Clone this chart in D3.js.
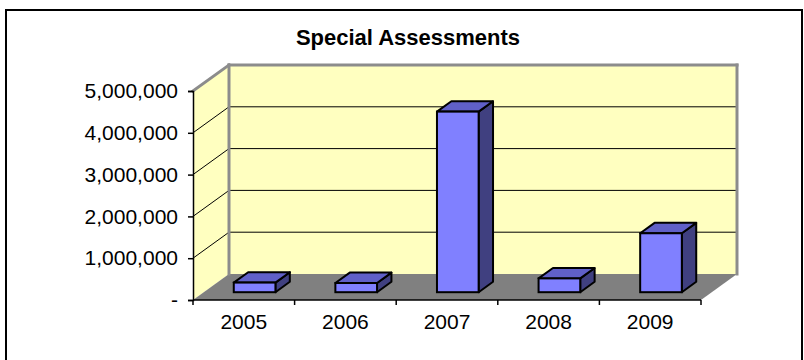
<!DOCTYPE html>
<html>
<head>
<meta charset="utf-8">
<script src="https://cdn.jsdelivr.net/npm/d3@7/dist/d3.min.js"></script>
<style>
  html, body { margin: 0; padding: 0; background: #fff; }
  svg { display: block; font-family: Arial, "Liberation Sans", sans-serif; }
</style>
</head>
<body>
<svg id="chart" width="804" height="360"></svg>
<script>
// Special assessments collected per year
const years = ["2005", "2006", "2007", "2008", "2009"];
const amounts = [230000, 220000, 4320000, 330000, 1410000];
const yTicks = [0, 1000000, 2000000, 3000000, 4000000, 5000000];
const titleText = "Special Assessments";

const svg = d3.select("#chart");

// Front plane of the 3-D box and the depth vector to the back wall
const x = d3.scaleBand().domain(years).range([193, 701]).padding(0);
const y = d3.scaleLinear().domain([0, 5000000]).range([300, 91]);
const depth = { dx: 36, dy: -26 };
const barFront = 0.3, barBack = 0.7;   // bar slab position within the depth
const barWidthFrac = 0.41;

const xL = x.range()[0], xR = x.range()[1];
const yTop = y(5000000), yBase = y(0);

// Outer frame
svg.append("rect")
  .attr("x", 6).attr("y", 10).attr("width", 796).attr("height", 360)
  .attr("fill", "#fff").attr("stroke", "#000").attr("stroke-width", 2);

// Title
svg.append("text")
  .attr("x", 408).attr("y", 45)
  .attr("text-anchor", "middle")
  .attr("font-size", 22).attr("font-weight", "bold")
  .text(titleText);

const pts = p => p.map(d => d.join(",")).join(" ");

// Back wall
svg.append("rect")
  .attr("x", xL + depth.dx).attr("y", yTop + depth.dy)
  .attr("width", xR - xL).attr("height", yBase - yTop)
  .attr("fill", "#FFFFC0");

// Side wall
svg.append("polygon")
  .attr("points", pts([[xL, yBase], [xL, yTop], [xL + depth.dx, yTop + depth.dy], [xL + depth.dx, yBase + depth.dy]]))
  .attr("fill", "#FFFFC0");

// Floor
svg.append("polygon")
  .attr("points", pts([[xL, yBase], [xR, yBase], [xR + depth.dx, yBase + depth.dy], [xL + depth.dx, yBase + depth.dy]]))
  .attr("fill", "#808080");

// Gridlines on the back and side walls
const inner = yTicks.filter(v => v > 0 && v < 5000000);
svg.append("g").selectAll("line.back").data(inner).join("line")
  .attr("x1", xL + depth.dx).attr("x2", xR + depth.dx)
  .attr("y1", d => y(d) + depth.dy).attr("y2", d => y(d) + depth.dy)
  .attr("stroke", "#000").attr("stroke-width", 1);
svg.append("g").selectAll("line.side").data(inner).join("line")
  .attr("x1", xL).attr("x2", xL + depth.dx)
  .attr("y1", d => y(d)).attr("y2", d => y(d) + depth.dy)
  .attr("stroke", "#000").attr("stroke-width", 1);

// Wall edges
const edge = "#8C8C8C";
const edges = [
  [[xL, yTop], [xL + depth.dx, yTop + depth.dy]],
  [[xL + depth.dx, yTop + depth.dy], [xR + depth.dx, yTop + depth.dy]],
  [[xL + depth.dx, yTop + depth.dy], [xL + depth.dx, yBase + depth.dy]],
  [[xR + depth.dx, yTop + depth.dy], [xR + depth.dx, yBase + depth.dy]]
];
svg.append("g").selectAll("line").data(edges).join("line")
  .attr("x1", d => d[0][0]).attr("y1", d => d[0][1])
  .attr("x2", d => d[1][0]).attr("y2", d => d[1][1])
  .attr("stroke", edge).attr("stroke-width", 3).attr("stroke-linecap", "square");

// Bars
const bw = x.bandwidth() * barWidthFrac;
const fx = barFront * depth.dx, fy = barFront * depth.dy;
const ddx = (barBack - barFront) * depth.dx, ddy = (barBack - barFront) * depth.dy;
const bars = svg.append("g").selectAll("g").data(years.map((c, i) => ({ c, v: amounts[i] }))).join("g");
bars.each(function (d) {
  const g = d3.select(this);
  const x0 = x(d.c) + x.bandwidth() / 2 - bw / 2 + fx, x1 = x0 + bw;
  const yt = y(d.v) + fy, yb = y(0) + fy;
  g.append("polygon")
    .attr("points", pts([[x1, yt], [x1 + ddx, yt + ddy], [x1 + ddx, yb + ddy], [x1, yb]]))
    .attr("fill", "#404080").attr("stroke", "#000").attr("stroke-width", 2).attr("stroke-linejoin", "round");
  g.append("polygon")
    .attr("points", pts([[x0, yt], [x1, yt], [x1 + ddx, yt + ddy], [x0 + ddx, yt + ddy]]))
    .attr("fill", "#6060C8").attr("stroke", "#000").attr("stroke-width", 2).attr("stroke-linejoin", "round");
  g.append("rect")
    .attr("x", x0).attr("y", yt).attr("width", bw).attr("height", yb - yt)
    .attr("fill", "#8080FF").attr("stroke", "#000").attr("stroke-width", 2);
});

// Value axis
const yAxis = d3.axisLeft(y).tickValues(yTicks).tickSize(5).tickPadding(10)
  .tickFormat(v => v === 0 ? "-" : d3.format(",")(v));
svg.append("g").attr("transform", `translate(${xL},0)`).call(yAxis)
  .call(g => g.select(".domain").attr("stroke", "#000").attr("stroke-width", 1.5))
  .call(g => g.selectAll(".tick line").attr("stroke", "#000").attr("stroke-width", 1.5))
  .call(g => g.selectAll(".tick text").attr("font-size", 21).attr("fill", "#000")
    .attr("font-family", "Arial, 'Liberation Sans', sans-serif"));

// Category axis
const boundaries = years.map(c => x(c)).concat([xR]);
const xg = svg.append("g");
xg.append("line").attr("x1", xL).attr("x2", xR).attr("y1", yBase).attr("y2", yBase)
  .attr("stroke", "#000").attr("stroke-width", 1.5);
xg.selectAll("line.tk").data(boundaries).join("line").attr("class", "tk")
  .attr("x1", d => d).attr("x2", d => d).attr("y1", yBase).attr("y2", yBase + 5)
  .attr("stroke", "#000").attr("stroke-width", 1.5);
xg.selectAll("text").data(years).join("text")
  .attr("x", d => x(d) + x.bandwidth() / 2).attr("y", 329)
  .attr("text-anchor", "middle").attr("font-size", 21)
  .text(d => d);
</script>
</body>
</html>
